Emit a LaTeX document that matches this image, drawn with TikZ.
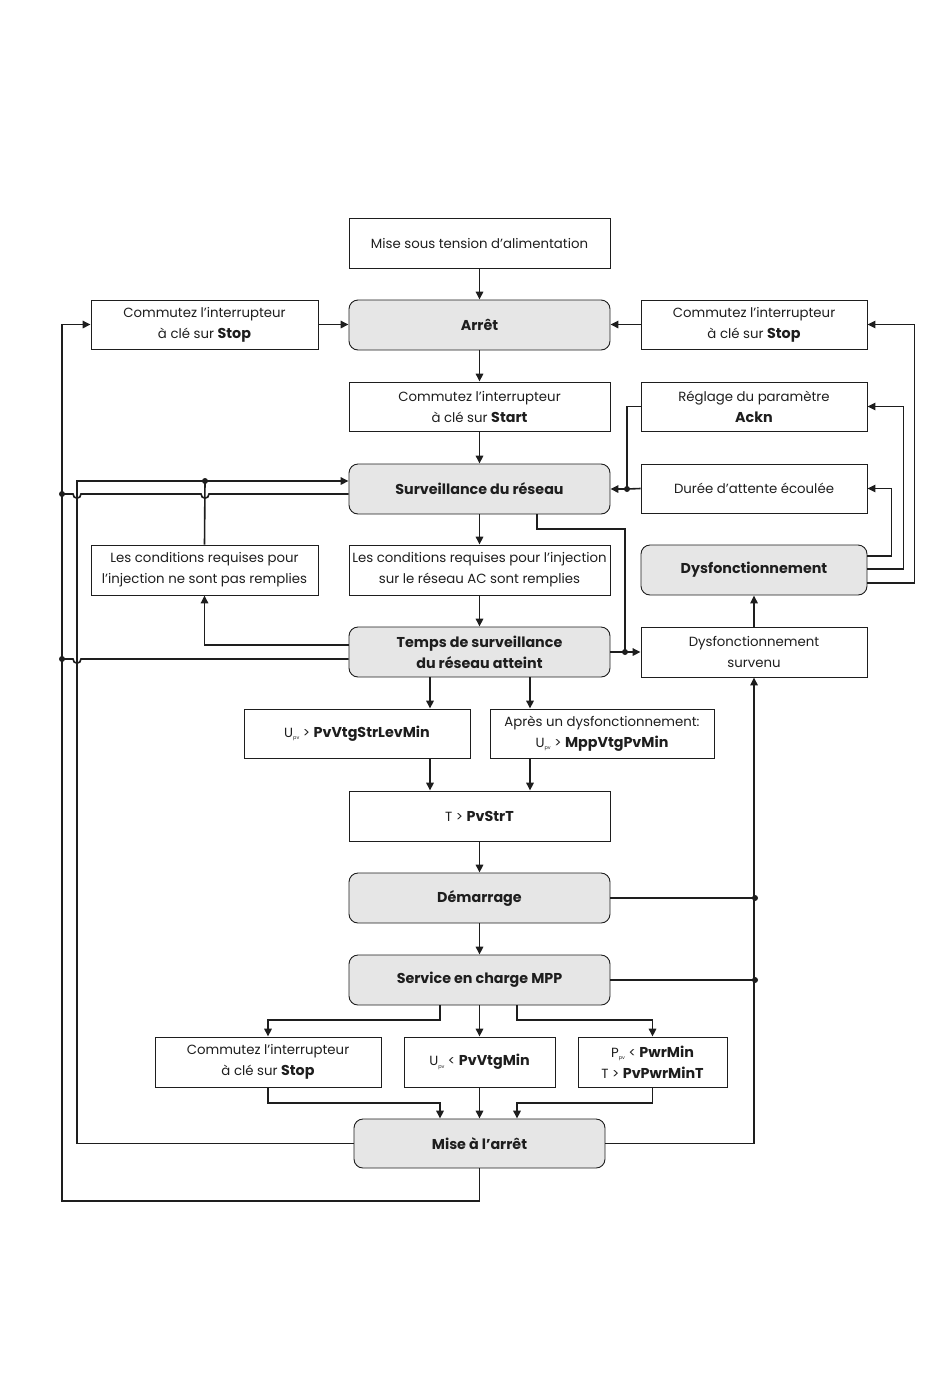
\documentclass[tikz,border=0pt]{standalone}
\usepackage{fontspec}
\setmainfont{Poppins}
\usetikzlibrary{arrows.meta}
\definecolor{boxgray}{HTML}{E6E6E6}
\definecolor{ink}{HTML}{1E1E1E}
\newcommand{\pvsub}{\raisebox{-2.5pt}{\fontsize{5}{5}\selectfont pv}}
\newcommand{\kw}[1]{{\fontsize{14.3}{21}\selectfont\bfseries #1}}
\tikzset{
  plainbox/.style={draw=ink, line width=0.9pt, align=center, inner sep=0pt, text=ink,
    font=\fontsize{13.3}{21}\selectfont},
  statebox/.style={plainbox, fill=boxgray, rounded corners=9pt,
    font=\fontsize{14.3}{21}\selectfont\bfseries},
  conn/.style={draw=ink, line width=1.6pt},
  arr/.style={conn, -{Triangle[length=8pt,width=7.5pt]}},
  jdot/.style={circle, fill=ink, inner sep=0pt, minimum size=6pt},
}
\begin{document}
\begin{tikzpicture}[x=1pt,y=-1pt]
\useasboundingbox (0,0) rectangle (950,1387);
\fill[white] (0,0) rectangle (950,1387);

% boxes
\node[plainbox, minimum width=261pt, minimum height=50pt] (pwr) at (479.5,243) {Mise sous tension d’alimentation};
\node[statebox, minimum width=261pt, minimum height=50pt] (arret) at (479.5,325) {Arrêt};
\node[plainbox, minimum width=227pt, minimum height=49pt] (stopL) at (204.5,324.5) {Commutez l’interrupteur\\à clé sur \kw{Stop}};
\node[plainbox, minimum width=226pt, minimum height=49pt] (stopR) at (754,324.5) {Commutez l’interrupteur\\à clé sur \kw{Stop}};
\node[plainbox, minimum width=261pt, minimum height=49pt] (start) at (479.5,406.5) {Commutez l’interrupteur\\à clé sur \kw{Start}};
\node[plainbox, minimum width=226pt, minimum height=49pt] (ackn) at (754,406.5) {Réglage du paramètre\\\kw{Ackn}};
\node[statebox, minimum width=261pt, minimum height=50pt] (surv) at (479.5,489) {Surveillance du réseau};
\node[plainbox, minimum width=226pt, minimum height=49pt] (duree) at (754,488.5) {Durée d’attente écoulée};
\node[plainbox, minimum width=227pt, minimum height=50pt] (nok) at (204.5,570) {Les conditions requises pour\\l’injection ne sont pas remplies};
\node[plainbox, minimum width=261pt, minimum height=50pt] (ok) at (479.5,570) {Les conditions requises pour l’injection\\sur le réseau AC sont remplies};
\node[statebox, minimum width=226pt, minimum height=50pt] (dysf) at (754,570) {Dysfonctionnement};
\node[statebox, minimum width=261pt, minimum height=50pt] (temps) at (479.5,652) {Temps de surveillance\\du réseau atteint};
\node[plainbox, minimum width=226pt, minimum height=50pt] (survenu) at (754,652) {Dysfonctionnement\\survenu};
\node[plainbox, minimum width=226pt, minimum height=49pt] (upa) at (357,733.5) {U\pvsub{} > \kw{PvVtgStrLevMin}};
\node[plainbox, minimum width=224pt, minimum height=49pt] (apres) at (602,733.5) {Après un dysfonctionnement:\\U\pvsub{} > \kw{MppVtgPvMin}};
\node[plainbox, minimum width=261pt, minimum height=50pt] (pvstrt) at (479.5,816) {T > \kw{PvStrT}};
\node[statebox, minimum width=261pt, minimum height=50pt] (dem) at (479.5,898) {Démarrage};
\node[statebox, minimum width=261pt, minimum height=50pt] (mpp) at (479.5,980) {Service en charge MPP};
\node[plainbox, minimum width=226pt, minimum height=50pt] (stopB) at (268,1062) {Commutez l’interrupteur\\à clé sur \kw{Stop}};
\node[plainbox, minimum width=151pt, minimum height=50pt] (upb) at (479.5,1062) {U\pvsub{} < \kw{PvVtgMin}};
\node[plainbox, minimum width=149pt, minimum height=50pt] (ppv) at (652.5,1062) {P\pvsub{} < \kw{PwrMin}\\T > \kw{PvPwrMinT}};
\node[statebox, minimum width=251pt, minimum height=49pt] (off) at (479.5,1143.5) {Mise à l’arrêt};

% junction dots and bend points
\node[jdot] (jA) at (62,494) {};
\node[jdot] (jB) at (62,659) {};
\node[jdot] (jC) at (205,481) {};
\node[jdot] (jD) at (625,652) {};
\node[jdot] (jE) at (627,489) {};
\node[jdot] (jF) at (755,898) {};
\node[jdot] (jG) at (755,980) {};
\coordinate (bl) at (62,1201);
\coordinate (lc) at (77,481);
\coordinate (rc) at (625,529);
\coordinate (xa) at (430,0);
\coordinate (xb) at (530,0);
\coordinate (xc) at (440,1020);
\coordinate (xd) at (517,1020);
\coordinate (xe) at (440,1103);
\coordinate (xf) at (517,1103);

% main chain
\draw[arr] (pwr) -- (arret);
\draw[arr] (stopL.east) -- (stopL.east -| arret.west);
\draw[arr] (stopR.west) -- (stopR.west -| arret.east);
\draw[arr] (arret) -- (start);
\draw[arr] (start) -- (surv);
\draw[arr] (surv) -- (ok);
\draw[arr] (ok) -- (temps);
\draw[arr] (temps.south -| xa) -- (upa.north -| xa);
\draw[arr] (temps.south -| xb) -- (apres.north -| xb);
\draw[arr] (upa.south -| xa) -- (pvstrt.north -| xa);
\draw[arr] (apres.south -| xb) -- (pvstrt.north -| xb);
\draw[arr] (pvstrt) -- (dem);
\draw[arr] (dem) -- (mpp);
\draw[arr] (mpp.south -| xc) -- (xc) -| (stopB.north);
\draw[arr] (mpp) -- (upb);
\draw[arr] (mpp.south -| xd) -- (xd) -| (ppv.north);
\draw[arr] (stopB.south) |- (xe) -- (off.north -| xe);
\draw[arr] (upb) -- (off);
\draw[arr] (ppv.south) |- (xf) -- (off.north -| xf);

% left side
\draw[arr] (off.south) |- (bl) -- (stopL.west -| bl) -- (stopL.west);
\draw[arr] (off.west) -| (lc) -- (lc -| surv.west);
\draw[conn] (nok.north) -- (jC.center);
\draw[arr] ([yshift=7pt]temps.west) -| (nok.south);
\draw[conn] ([yshift=-5pt]surv.west) -- (209,494) .. controls (209,499.5) and (201,499.5) .. (201,494)
  -- (81,494) .. controls (81,499.5) and (73,499.5) .. (73,494) -- (jA.center);
\draw[conn] ([yshift=-7pt]temps.west) -- (81,659) .. controls (81,664.5) and (73,664.5) .. (73,659) -- (jB.center);

% right side
\draw[arr] ([xshift=57.5pt]surv.south) |- (rc) -- (rc |- survenu.west) -- (survenu.west);
\draw[conn] (temps.east) -- (jD.center);
\draw[arr] (ackn.west) -| (jE.center) -- (surv.east);
\draw[conn] (duree.west) -- (jE.center);
\draw[arr, line width=1.4pt] ([yshift=14pt]dysf.east) -- ++(24,0) |- (duree.east);
\draw[arr, line width=1.4pt] ([yshift=1pt]dysf.east) -- ++(36,0) |- (ackn.east);
\draw[arr, line width=1.4pt] ([yshift=-13pt]dysf.east) -- ++(47,0) |- (stopR.east);
\draw[arr] (survenu) -- (dysf);
\draw[arr] (off.east) -| (survenu.south);
\draw[conn] (dem.east) -- (jF.center);
\draw[conn] (mpp.east) -- (jG.center);
\end{tikzpicture}
\end{document}
